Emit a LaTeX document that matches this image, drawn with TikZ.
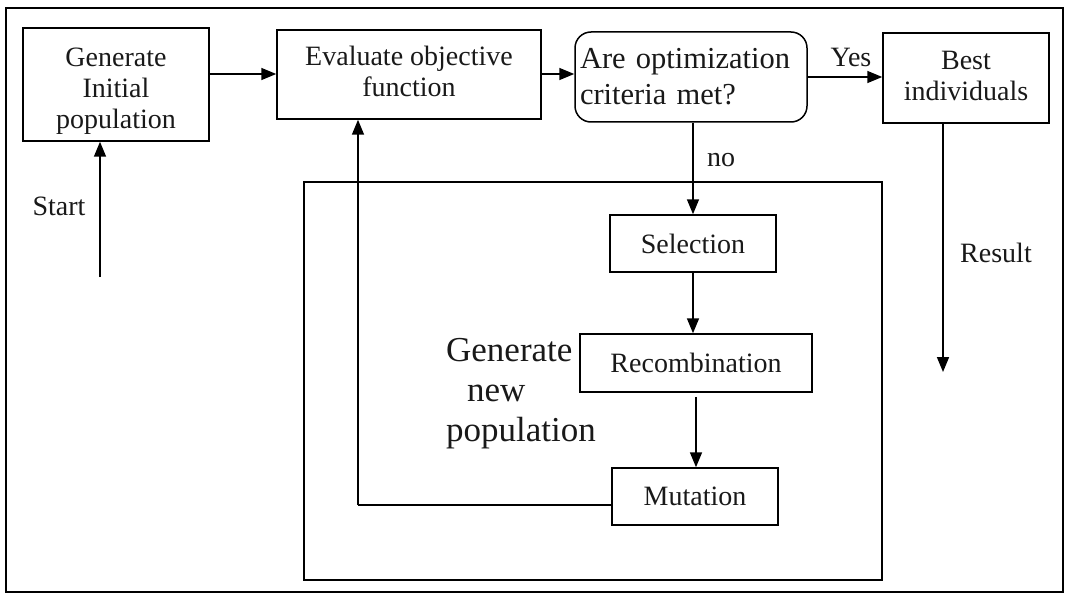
\documentclass[tikz,border=0pt]{standalone}
\usepackage{fontspec}
\setmainfont{Liberation Serif}
\usetikzlibrary{arrows.meta}
\begin{document}
\begin{tikzpicture}[x=1pt,y=-1pt,
  every node/.style={inner sep=0pt, text=black!90},
  box/.style={draw, line width=1.5pt, align=center,
    font=\fontsize{28}{31}\selectfont},
  decision/.style={box, rounded corners=16pt},
  lbl/.style={font=\fontsize{28}{31}\selectfont},
  flow/.style={line width=1.6pt, -{Triangle[length=15pt,width=12pt]}},
  wire/.style={line width=1.6pt},
  frame/.style={line width=1.8pt}]
\useasboundingbox (0,0) rectangle (1066,599);

% frames
\draw[frame] (6,8) rectangle (1063,592);
\draw[frame, line width=1.5pt] (304,182) rectangle (882,580);

% main row
\node[box, minimum width=186pt, minimum height=113pt] (init) at (116,84.5)
  {\rule{0pt}{32pt}Generate\\Initial\\population};
\node[box, minimum width=264pt, minimum height=89pt] (eval) at (409,74.5)
  {Evaluate objective\\function\rule[-6pt]{0pt}{6pt}};
\node[decision, minimum width=232pt, minimum height=90pt, text width=222pt,
  align=left, font=\fontsize{30.5}{36}\selectfont] (crit) at (691,77)
  {Are optimization\\criteria met?};
\node[box, minimum width=166pt, minimum height=90pt] (best) at (966,78)
  {Best\\individuals\rule[-5pt]{0pt}{5pt}};

% new population loop
\node[box, minimum width=166pt, minimum height=57pt] (sel) at (693,243.5) {Selection};
\node[box, minimum width=232pt, minimum height=58pt] (rec) at (696,363) {Recombination};
\node[box, minimum width=166pt, minimum height=57pt] (mut) at (695,496.5) {Mutation};

% labels
\node[lbl] (lstart) at (59,206) {Start};
\node[lbl] (lyes) at (851,57) {Yes};
\node[lbl] (lno) at (721,160) {no};
\node[lbl] (lres) at (996,253) {Result};
\node[align=left, font=\fontsize{35}{40}\selectfont] (lgen) at (521,394)
  {Generate\\\hspace*{21pt}new\\population};

% free ends of connectors
\coordinate (start) at (100,277);
\coordinate (resend) at (943,372);
\coordinate (fb) at (358,505);

% connectors
\draw[flow] (start) -- (init.south -| start);
\draw[flow] (init.east |- 0,74) -- (eval.west |- 0,74);
\draw[flow] (eval.east |- 0,74) -- (crit.west |- 0,74);
\draw[flow] (crit.east |- 0,77) -- (best.west |- 0,77);
\draw[flow] (best.south -| resend) -- (resend);
\draw[flow] (crit.south -| sel.north) -- (sel.north);
\draw[flow] (sel.south) -- (sel.south |- rec.north);
\draw[flow] (rec.south) ++(0,4) -- (rec.south |- mut.north);
\draw[wire] (mut.west |- fb) -- (fb);
\draw[flow] (fb) -- (eval.south -| fb);
\end{tikzpicture}
\end{document}
